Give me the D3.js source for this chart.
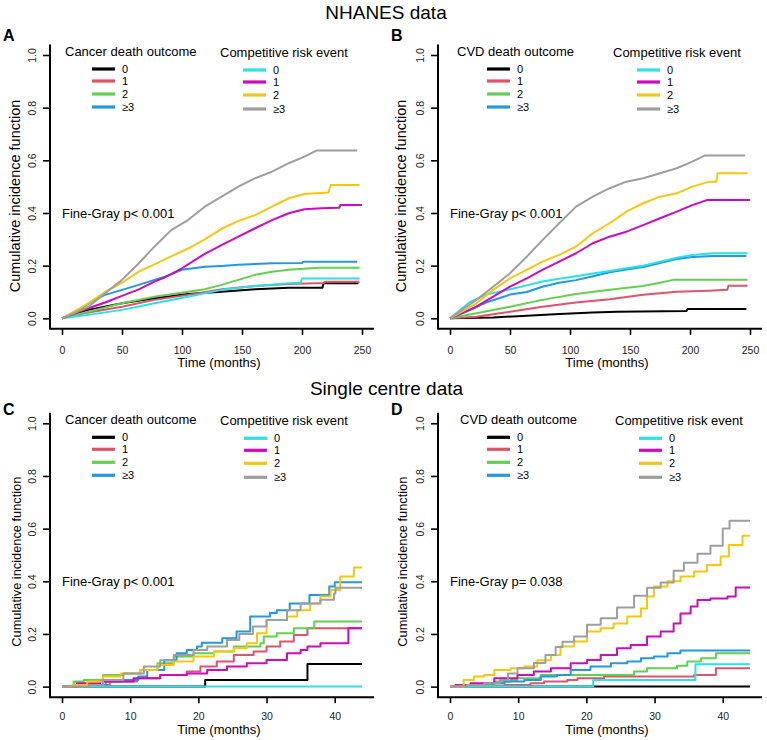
<!DOCTYPE html>
<html>
<head>
<meta charset="utf-8">
<script src="https://cdnjs.cloudflare.com/ajax/libs/d3/7.8.5/d3.min.js"></script>
<style>
  body { margin: 0; background: #fff; }
  svg { display: block; font-family: "Liberation Sans", Arial, sans-serif; }
</style>
</head>
<body>
<svg id="chart" width="767" height="740"></svg>
<script>
// group labels and R default palette
const groupLabels = ['0', '1', '2', '≥3'];
const outcomeColors = ['#000000', '#DF536B', '#61D04F', '#2297E6'];
const riskColors = ['#28E2E5', '#CD0BBC', '#F5C710', '#9E9E9E'];

const cifTicks = [0, 0.2, 0.4, 0.6, 0.8, 1.0];
const nhanesTimeTicks = [0, 50, 100, 150, 200, 250];
const singleTimeTicks = [0, 10, 20, 30, 40];

// each series: [months, cumulative incidence]
// A: NHANES, cancer death
const nhanesCancerOutcome = [
  [[0,0],[22,.032],[50,.057],[77,.076],[105,.092],[133,.101],[161,.11],[189,.116],[217,.116],[218,.133],[247,.133]],
  [[0,0],[22,.022],[50,.044],[77,.07],[105,.089],[133,.11],[161,.123],[189,.13],[218,.134],[219,.139],[248,.139]],
  [[0,0],[22,.025],[50,.057],[77,.082],[105,.101],[119,.11],[133,.127],[147,.146],[161,.165],[175,.177],[189,.184],[214,.192],[248,.192]],
  [[0,0],[16,.038],[27,.07],[36,.089],[50,.108],[64,.127],[77,.146],[86,.158],[100,.184],[119,.196],[133,.199],[147,.203],[161,.206],[175,.209],[200,.21],[201,.215],[246,.215]]
];
const nhanesCancerRisk = [
  [[0,0],[22,.013],[50,.032],[77,.057],[105,.082],[133,.108],[161,.123],[189,.133],[199,.135],[200,.151],[248,.151]],
  [[0,0],[22,.038],[36,.06],[50,.085],[64,.11],[77,.139],[86,.156],[100,.19],[119,.245],[133,.278],[147,.31],[161,.342],[175,.373],[189,.399],[202,.414],[216,.418],[231,.42],[232,.43],[250,.43]],
  [[0,0],[22,.057],[36,.101],[50,.135],[64,.177],[77,.205],[91,.235],[105,.265],[119,.3],[133,.34],[147,.37],[161,.392],[175,.424],[189,.456],[202,.472],[222,.478],[224,.506],[248,.506]],
  [[0,0],[22,.044],[36,.095],[50,.146],[64,.209],[77,.272],[91,.335],[105,.373],[119,.424],[133,.462],[147,.5],[161,.532],[175,.557],[189,.589],[202,.614],[212,.637],[246,.637]]
];

// B: NHANES, CVD death
const nhanesCvdOutcome = [
  [[0,0],[36,.003],[64,.01],[91,.016],[119,.022],[139,.025],[197,.028],[198,.035],[247,.035]],
  [[0,0],[22,.006],[50,.025],[77,.044],[105,.06],[133,.072],[161,.089],[189,.101],[216,.105],[231,.108],[232,.124],[248,.124]],
  [[0,0],[22,.019],[50,.044],[77,.07],[105,.092],[133,.108],[161,.123],[175,.135],[186,.146],[248,.146]],
  [[0,0],[16,.03],[30,.06],[50,.09],[64,.1],[77,.12],[91,.135],[105,.145],[119,.16],[133,.175],[147,.185],[161,.195],[175,.21],[189,.225],[202,.233],[219,.237],[247,.237]]
];
const nhanesCvdRisk = [
  [[0,0],[16,.06],[30,.09],[50,.11],[64,.125],[77,.14],[91,.15],[105,.16],[119,.17],[133,.18],[147,.19],[161,.2],[175,.215],[189,.23],[202,.24],[219,.247],[248,.247]],
  [[0,0],[22,.044],[36,.082],[50,.12],[64,.152],[77,.184],[91,.215],[105,.247],[119,.285],[133,.31],[147,.329],[161,.354],[175,.38],[189,.405],[202,.43],[214,.449],[250,.449]],
  [[0,0],[22,.057],[36,.108],[50,.152],[64,.184],[77,.215],[91,.241],[105,.272],[119,.323],[133,.361],[147,.405],[161,.437],[175,.462],[189,.475],[202,.5],[216,.519],[222,.519],[223,.551],[248,.551]],
  [[0,0],[22,.07],[36,.12],[50,.171],[64,.234],[77,.297],[91,.361],[105,.424],[119,.462],[133,.494],[147,.519],[161,.532],[175,.551],[189,.57],[202,.595],[212,.618],[246,.618]]
];

// C: single centre, cancer death
const singleCancerOutcome = [
  [[0,0],[21,.025],[36,.086],[44,.086]],
  [[0,0],[3.7,.006],[7,.019],[11,.032],[14.4,.044],[18.3,.057],[20.3,.076],[22.7,.095],[25.2,.12],[28.1,.133],[30,.152],[32,.171],[34,.196],[36,.222],[44,.222]],
  [[0,0],[1.7,.019],[3.2,.025],[6,.044],[9,.05],[11.5,.063],[14,.089],[16.4,.114],[19.3,.127],[22.3,.133],[25.2,.152],[29.1,.165],[29.6,.19],[31.5,.203],[34,.222],[37,.247],[44,.247]],
  [[0,0],[4,.006],[6.4,.019],[8.8,.025],[11.2,.038],[12.5,.063],[15,.1],[16.8,.127],[18.3,.139],[19.8,.152],[20.5,.167],[23.5,.184],[25.6,.209],[27.6,.266],[30.5,.28],[31.5,.29],[33.4,.316],[36.3,.348],[39.2,.38],[40,.396],[44,.396]]
];
const singleCancerRisk = [
  [[0,0],[44,0]],
  [[0,0],[2.2,.013],[5.6,.019],[10.5,.032],[14.4,.044],[18.3,.05],[21.3,.063],[24.2,.076],[27.1,.089],[30,.101],[33,.127],[35,.139],[36,.152],[37.9,.165],[42,.222],[44,.222]],
  [[0,0],[1.5,.006],[3.7,.019],[6,.038],[8.6,.05],[11.5,.063],[14,.082],[16.4,.095],[19.3,.114],[22.3,.133],[25.2,.146],[27.1,.165],[28.6,.203],[30,.253],[33,.266],[34.5,.29],[36.4,.316],[37.9,.342],[39.4,.367],[40.8,.418],[42.8,.452],[44,.452]],
  [[0,0],[4,.006],[6,.025],[9,.05],[12,.076],[14.4,.1],[16.4,.12],[19.3,.139],[21.3,.152],[24.2,.177],[26,.2],[28,.228],[30,.253],[33,.29],[35,.316],[37.9,.33],[39.9,.354],[40.1,.375],[44,.375]]
];

// D: single centre, CVD death
const singleCvdOutcome = [
  [[0,0],[44,0]],
  [[0,0],[5,.003],[8,.006],[11.8,.013],[13.8,.019],[17.2,.025],[18.7,.032],[22.6,.038],[35.8,.044],[39,.07],[44,.07]],
  [[0,0],[3,.006],[6.5,.019],[8.9,.025],[9.9,.032],[13.3,.044],[24.5,.044],[27,.057],[28.9,.07],[33.3,.079],[34.8,.095],[36.8,.108],[39,.127],[44,.127]],
  [[0,0],[2.5,.006],[5,.013],[8,.019],[10.9,.025],[13.3,.038],[15.7,.044],[17.7,.063],[20.6,.076],[23.6,.089],[26,.095],[28,.108],[29.9,.114],[31.9,.127],[33.8,.137],[44,.137]]
];
const singleCvdRisk = [
  [[0,0],[21,.025],[36,.085],[44,.085]],
  [[0,0],[0.8,.006],[3,.013],[6.5,.032],[9.9,.044],[12.3,.057],[14.8,.07],[17.7,.089],[20.1,.101],[22.1,.12],[24.5,.146],[26.5,.158],[28.9,.19],[30.9,.209],[32.8,.24],[33.8,.278],[35.3,.304],[36.3,.329],[38.2,.335],[40.7,.342],[41.9,.376],[44,.376]],
  [[0,0],[2,.025],[3.5,.038],[5,.044],[6.5,.063],[8.9,.07],[10.9,.076],[12.8,.1],[14.8,.12],[16.2,.152],[18.2,.171],[20.1,.209],[22.1,.222],[24,.24],[26,.266],[28,.297],[28.9,.342],[29.9,.38],[31.9,.4],[33.8,.418],[35.8,.437],[37.7,.462],[39.7,.494],[40.9,.538],[42.9,.573],[44,.573]],
  [[0,0],[2.5,.006],[5,.013],[7.3,.025],[8.5,.05],[9.9,.07],[12.3,.09],[14,.12],[15.5,.15],[16.5,.17],[18.2,.19],[20.1,.235],[22.1,.26],[24.5,.3],[27,.345],[28.9,.375],[30.9,.395],[32.8,.44],[34.3,.47],[36.3,.505],[38.2,.535],[40,.6],[41,.63],[44,.63]]
];

const panels = [
  { letter: 'A', x0: 50, y1: 55, xMax: 250, ticks: nhanesTimeTicks, outcome: nhanesCancerOutcome, risk: nhanesCancerRisk,
    title: 'Cancer death outcome', pText: 'Fine-Gray p< 0.001', curve: d3.curveLinear, letterY: 14.3,
    leg: [15, 42, 170, 193], ylabX: 30, ylabSize: 14.5, ylabY: 141, xlabY: 38, tickY: 24.7 },
  { letter: 'B', x0: 438, y1: 55, xMax: 250, ticks: nhanesTimeTicks, outcome: nhanesCvdOutcome, risk: nhanesCvdRisk,
    title: 'CVD death outcome', pText: 'Fine-Gray p< 0.001', curve: d3.curveLinear, letterY: 14.3,
    leg: [19, 49, 175, 199], ylabX: 32, ylabSize: 14.5, ylabY: 141, xlabY: 38, tickY: 24.7 },
  { letter: 'C', x0: 50, y1: 423.3, xMax: 44, ticks: singleTimeTicks, outcome: singleCancerOutcome, risk: singleCancerRisk,
    title: 'Cancer death outcome', pText: 'Fine-Gray p< 0.001', curve: d3.curveStepAfter, letterY: 8.3,
    leg: [15, 42, 170, 194], ylabX: 29, ylabSize: 12.8, ylabY: 138.4, xlabY: 36.5, tickY: 23 },
  { letter: 'D', x0: 438, y1: 423.3, xMax: 44, ticks: singleTimeTicks, outcome: singleCvdOutcome, risk: singleCvdRisk,
    title: 'CVD death outcome', pText: 'Fine-Gray p= 0.038', curve: d3.curveStepAfter, letterY: 8.3,
    leg: [22, 49, 177, 201], ylabX: 31, ylabSize: 12.8, ylabY: 138.4, xlabY: 36.5, tickY: 23 }
];

const svg = d3.select('#chart');

svg.append('text')
  .attr('x', 386).attr('y', 18.5)
  .attr('text-anchor', 'middle')
  .style('font-size', '19px')
  .text('NHANES data');

svg.append('text')
  .attr('x', 386.5).attr('y', 394.5)
  .attr('text-anchor', 'middle')
  .style('font-size', '19px')
  .text('Single centre data');

panels.forEach(p => {
  const x = d3.scaleLinear().domain([0, p.xMax]).range([p.x0 + 12, p.x0 + 312]);
  const y = d3.scaleLinear().domain([0, 1]).range([p.y1 + 263.3, p.y1]);
  const pad = p.xMax * 0.04;
  const xLeft = x(-pad), yBottom = y(-0.04);

  const g = svg.append('g').attr('class', 'panel');

  // panel letter
  g.append('text')
    .attr('x', p.x0 - 47).attr('y', p.y1 - p.letterY)
    .style('font-size', '16px')
    .style('font-weight', 'bold')
    .text(p.letter);

  // curves: outcome group first, then competing risk
  const line = d3.line()
    .x(d => x(d[0]))
    .y(d => y(d[1]))
    .curve(p.curve);

  const series = p.outcome.map((s, i) => ({ values: s, color: outcomeColors[i] }))
    .concat(p.risk.map((s, i) => ({ values: s, color: riskColors[i] })));

  g.selectAll('.cif')
    .data(series)
    .enter()
    .append('path')
    .attr('class', 'cif')
    .attr('d', d => line(d.values))
    .attr('fill', 'none')
    .attr('stroke', d => d.color)
    .attr('stroke-width', 2)
    .attr('stroke-linejoin', 'round');

  // L-shaped box
  g.append('path')
    .attr('d', `M${xLeft},${y(1.04)}V${yBottom}H${x(p.xMax + pad)}`)
    .attr('fill', 'none')
    .attr('stroke', '#000')
    .attr('stroke-width', 2);

  // y axis
  const yAxis = g.append('g')
    .attr('transform', `translate(${xLeft},0)`)
    .call(d3.axisLeft(y).tickValues(cifTicks).tickSize(7).tickFormat(d3.format('.1f')));
  yAxis.select('.domain').remove();
  yAxis.selectAll('line').attr('stroke-width', 1.6);
  yAxis.selectAll('text')
    .attr('transform', 'rotate(-90)')
    .attr('x', 0).attr('y', -14).attr('dy', 0)
    .attr('text-anchor', 'middle')
    .attr('fill', '#222')
    .style('font-size', '10.5px')
    .style('font-family', '"Liberation Sans", Arial, sans-serif');

  // x axis
  const xAxis = g.append('g')
    .attr('transform', `translate(0,${yBottom})`)
    .call(d3.axisBottom(x).tickValues(p.ticks).tickSize(6));
  xAxis.select('.domain').remove();
  xAxis.selectAll('line').attr('stroke-width', 1.6);
  xAxis.selectAll('text')
    .attr('y', p.tickY).attr('dy', 0)
    .attr('fill', '#222')
    .style('font-size', '10.5px')
    .style('font-family', '"Liberation Sans", Arial, sans-serif');

  // axis titles
  g.append('text')
    .attr('x', p.x0 + 169).attr('y', yBottom + p.xlabY)
    .attr('text-anchor', 'middle')
    .style('font-size', '13px')
    .text('Time (months)');

  g.append('text')
    .attr('transform', `translate(${p.x0 - p.ylabX},${p.y1 + p.ylabY}) rotate(-90)`)
    .attr('text-anchor', 'middle')
    .style('font-size', p.ylabSize + 'px')
    .text('Cumulative incidence function');

  // Fine-Gray annotation
  g.append('text')
    .attr('x', x(0)).attr('y', y(0.4))
    .attr('dy', '0.35em')
    .style('font-size', '13px')
    .text(p.pText);

  // legends
  const legends = [
    { title: p.title, colors: outcomeColors, tx: p.leg[0], lx: p.leg[1], ty: 0.5, rows: [14, 26, 39, 52] },
    { title: 'Competitive risk event', colors: riskColors, tx: p.leg[2], lx: p.leg[3], ty: 1.8, rows: [15, 27, 40, 54] }
  ];

  legends.forEach(L => {
    const lg = g.append('g').attr('transform', `translate(${p.x0},${p.y1})`);
    lg.append('text')
      .attr('x', L.tx).attr('y', L.ty)
      .style('font-size', '13px')
      .text(L.title);
    const rows = lg.selectAll('.row')
      .data(groupLabels)
      .enter()
      .append('g')
      .attr('class', 'row')
      .attr('transform', (d, i) => `translate(0,${L.rows[i]})`);
    rows.append('line')
      .attr('x1', L.lx).attr('x2', L.lx + 23)
      .attr('stroke', (d, i) => L.colors[i])
      .attr('stroke-width', 3.2);
    rows.append('text')
      .attr('x', L.lx + 30)
      .attr('dy', '0.35em')
      .style('font-size', '11px')
      .text(d => d);
  });
});
</script>
</body>
</html>
